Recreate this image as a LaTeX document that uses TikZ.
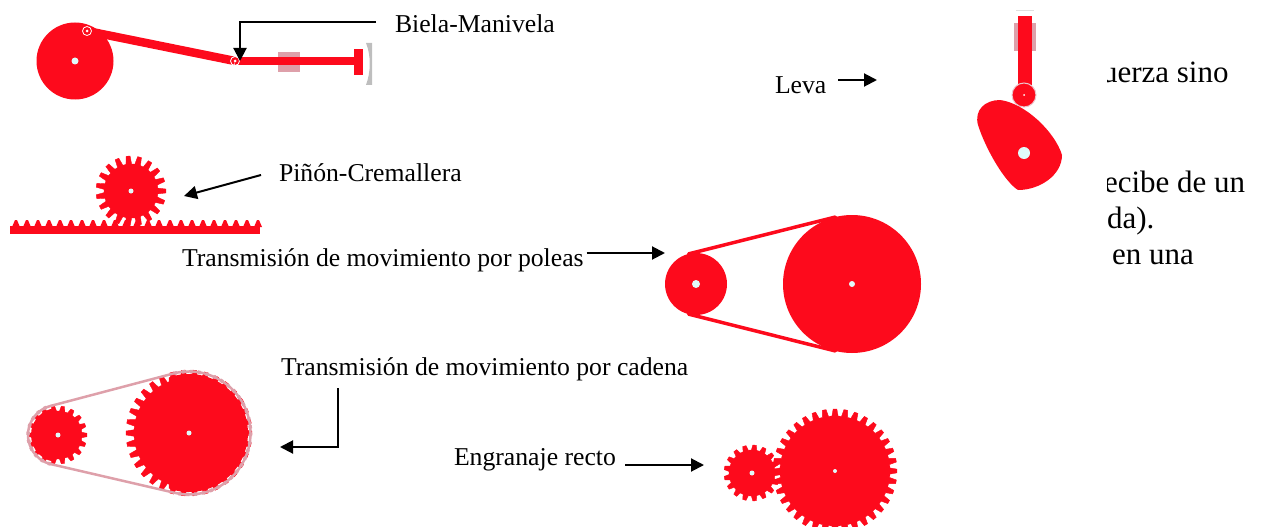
\documentclass[tikz,border=0pt]{standalone}
\usepackage{fontspec}
\setmainfont{Liberation Serif}
\usetikzlibrary{arrows.meta}
\definecolor{custcol_rojo}{RGB}{253, 10, 28}
\definecolor{custcol_rosa}{RGB}{222, 160, 170}
\definecolor{custcol_gris}{RGB}{190, 190, 190}
\definecolor{custcol_agujero}{RGB}{225, 250, 250}
\tikzset{
  etiqueta/.style={inner sep=0, outer sep=0, anchor=base west, font=\fontsize{25.7pt}{25.7pt}\selectfont},
  etiquetaGrande/.style={etiqueta, font=\fontsize{31pt}{31pt}\selectfont},
  flecha/.style={line width=2.0pt, black, -{Triangle[length=13pt, width=13pt]}},
  disco/.style={circle, fill=custcol_rojo, inner sep=0, outer sep=0},
  agujero/.style={circle, fill=custcol_agujero, inner sep=0, outer sep=0},
  anillo/.style={circle, inner sep=0, outer sep=0},
  correa/.style={line width=3.5pt, line cap=round, custcol_rojo},
  cadena/.style={line width=2.5pt, custcol_rosa},
  eslabon/.style={line width=3.5pt, custcol_rosa, dash pattern=on 3pt off 5pt},
}
% rueda dentada: x, y, radio de base, radio exterior, dientes
\newcommand{\rueda}[5]{
  \pgfmathsetmacro{\paso}{360/#5}
  \filldraw [custcol_rojo, line width=0.4pt, line join=round] ([shift={(#1,#2)}]-0.32*\paso:#3)
    \foreach \k [evaluate=\k as \ang using (\k-1)*\paso] in {1,...,#5} {
      -- ([shift={(#1,#2)}]\ang-0.32*\paso:#3)
      -- ([shift={(#1,#2)}]\ang-0.17*\paso:#4)
      -- ([shift={(#1,#2)}]\ang+0.17*\paso:#4)
      -- ([shift={(#1,#2)}]\ang+0.32*\paso:#3)
    } -- cycle;
}
\begin{document}
\begin{tikzpicture}[x=1pt,y=-1pt,line cap=butt]
\useasboundingbox (0,0) rectangle (1267,527);
% biela-manivela
\node[disco, minimum size=77pt] (manivela) at (75,61) {};
\node[agujero, minimum size=7pt] (ejeManivela) at (75,61) {};
\coordinate (pernoA) at (87,31);
\coordinate (pernoB) at (235,61);
\fill [custcol_rosa] (278,52) rectangle (300,72);
\fill [custcol_gris] (366,43) .. controls (371,55) and (371,72) .. (366,85) -- (372,85) -- (372,43) -- cycle;
\draw [line width=8.0pt, custcol_rojo] (pernoB) -- (356,61);
\fill [custcol_rojo] (354,49) rectangle (363,75);
\draw [line width=8.5pt, custcol_rojo] (pernoA) -- (pernoB);
\draw [line width=0.8pt, white] (pernoA) circle (4.5);
\draw [line width=0.8pt, white] (pernoB) circle (4.5);
\fill [white] (pernoA) circle (1.5);
\fill [white] (pernoB) circle (1.5);
\node[etiqueta] (rotBiela) at (395,33) {Biela-Manivela};
\coordinate (finBiela) at (240,61);
\draw [flecha, shorten <=19pt] (rotBiela.west |- 0,22) -| (finBiela);
% piñon y cremallera
\rueda{131}{191}{27}{35}{19}
\node[agujero, minimum size=5pt] (ejePinon) at (131,191) {};
\fill [custcol_rojo] (10,226) rectangle (260,234);
\foreach \x in {16,27,...,258} {
  \fill [custcol_rojo] (\x-4,227) -- (\x-1,220) -- (\x+1,220) -- (\x+4,227) -- cycle;
}
\node[etiqueta] (rotPinon) at (279,181) {Piñón-Cremallera};
\coordinate (inicioPinon) at (261,175);
\coordinate (finPinon) at (184,196);
\draw [flecha] (inicioPinon) -- (finPinon);
% poleas
\node[disco, minimum size=62pt] (poleaChica) at (696,284) {};
\node[disco, minimum size=138pt] (poleaGrande) at (852,284) {};
\node[agujero, minimum size=8pt] (ejeChica) at (696,284) {};
\node[agujero, minimum size=6pt] (ejeGrande) at (852,284) {};
\draw [correa] (poleaChica.104) -- (poleaGrande.104);
\draw [correa] (poleaChica.256) -- (poleaGrande.256);
\node[etiqueta] (rotPoleas) at (182,266) {Transmisión de movimiento por poleas};
\draw [flecha] (rotPoleas.east |- 0,253) ++(3,0) coordinate (inicioPoleas) -- (665,253) coordinate (finPoleas);
% cadena
\rueda{58}{435}{24}{29}{18}
\rueda{189}{433}{55}{63}{34}
\fill [custcol_rojo] (58,435) ++(100:27) arc (100:260:27) -- cycle;
\fill [custcol_rojo] (189,433) ++(-110:59) arc (-110:110:59) -- cycle;
\node[anillo, minimum size=60pt] (cadenaChica) at (58,435) {};
\node[anillo, minimum size=123pt] (cadenaGrande) at (189,433) {};
\draw [cadena] (cadenaChica.104) -- (cadenaGrande.104) arc (-104:104:61.5)
  -- (cadenaChica.256) arc (104:256:30) -- cycle;
\draw [eslabon] (cadenaGrande.104) arc (-104:104:61.5);
\draw [eslabon] (cadenaChica.256) arc (104:256:30);
\node[agujero, minimum size=5pt] (ejeCadenaA) at (58,435) {};
\node[agujero, minimum size=5pt] (ejeCadenaB) at (189,433) {};
\node[etiqueta] (rotCadena) at (281,375) {Transmisión de movimiento por cadena};
\coordinate (inicioCadena) at (338,388);
\coordinate (finCadena) at (280,447);
\draw [flecha] (inicioCadena) |- (finCadena);
% engranaje recto
\rueda{752}{473}{23}{28}{17}
\rueda{835}{471}{55}{62}{36}
\node[agujero, minimum size=5pt] (ejeRectoA) at (752,473) {};
\node[agujero, minimum size=4pt] (ejeRectoB) at (835,471) {};
\node[etiqueta] (rotRecto) at (454,465) {Engranaje recto};
\coordinate (inicioRecto) at (625,465);
\coordinate (finRecto) at (704,465);
\draw [flecha] (inicioRecto) -- (finRecto);
% leva
\fill [custcol_rosa] (1014,23) rectangle (1036,51);
\fill [custcol_gris!50] (1016,10) rectangle (1034,11);
\fill [custcol_rojo] (1018,16) rectangle (1032,85);
\draw [line width=1.0pt, fill=custcol_rojo, draw=custcol_rosa!60] (1024,95) circle (12);
\fill [white] (1024,95) circle (1);
\fill [custcol_rojo] (1000,100) .. controls (1025,103) and (1055,132) .. (1062,155)
  .. controls (1062,175) and (1040,190) .. (1018,190)
  .. controls (1005,182) and (986,150) .. (978,125)
  .. controls (974,110) and (985,100) .. (1000,100) -- cycle;
\node[agujero, minimum size=12pt] (ejeLeva) at (1024,153) {};
\node[etiqueta] (rotLeva) at (775,93) {Leva};
\coordinate (inicioLeva) at (838,80);
\coordinate (finLeva) at (877,80);
\draw [flecha] (inicioLeva) -- (finLeva);
% texto cortado a la derecha
\begin{scope}
\clip (1107,40) rectangle (1267,280);
\node[etiquetaGrande] (rotFuerza) at (1102,83) {uerza sino};
\node[etiquetaGrande] (rotRecibe) at (1104,192) {ecibe de un};
\node[etiquetaGrande] (rotDa) at (1107,228) {da).};
\node[etiquetaGrande] (rotUna) at (1112,264) {en una};
\end{scope}
\end{tikzpicture}
\end{document}
